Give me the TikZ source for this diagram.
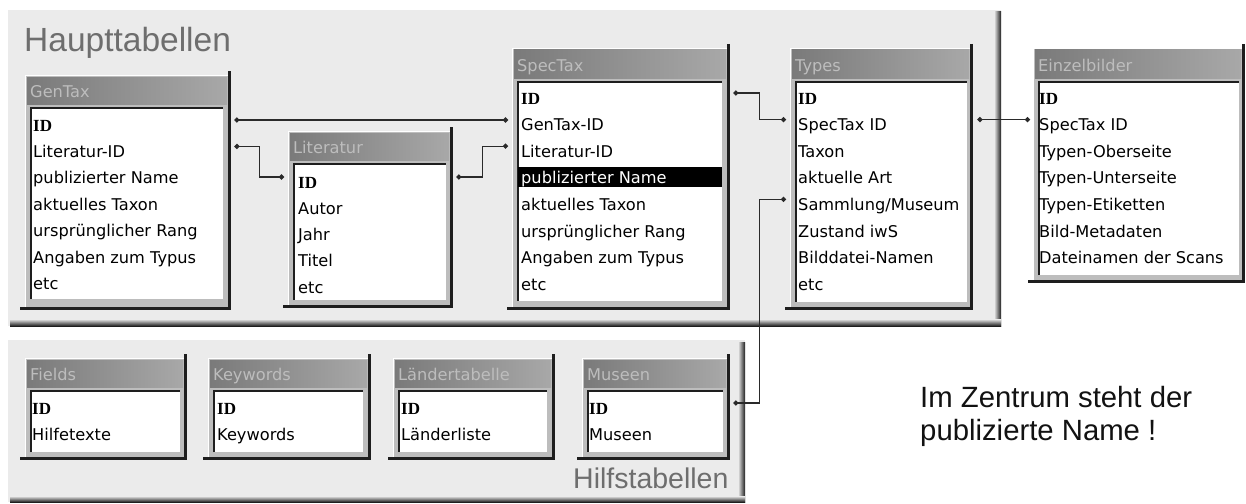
\documentclass[tikz,border=0pt]{standalone}
\usepackage{fontspec}
\setmainfont{DejaVu Sans}
\newfontfamily\headf{Liberation Sans}
\newfontfamily\idf{Liberation Serif}
\usetikzlibrary{calc,arrows.meta}

\definecolor{panelbg}{HTML}{EBEBEB}
\definecolor{framegray}{HTML}{BDBDBD}
\definecolor{barL}{HTML}{7A7A7A}
\definecolor{barR}{HTML}{A8A8A8}
\definecolor{bartext}{HTML}{BDBDBD}
\definecolor{edgedark}{HTML}{1E1E1E}
\definecolor{headgray}{HTML}{6E6E6E}
\definecolor{linkgray}{HTML}{2A2A2A}

\tikzset{
  rowtext/.style={anchor=base west, inner sep=0pt, font=\fontsize{16.2}{19}\selectfont, text=black},
  rowid/.style={rowtext, font=\idf\bfseries\fontsize{17}{19}\selectfont},
  bartitle/.style={anchor=base west, inner sep=0pt, font=\fontsize{16.2}{19}\selectfont, text=bartext},
  tabframe/.style={inner sep=0pt, anchor=north west},
  link/.style={draw=linkgray, line width=1.3pt, arrows={Circle[length=5pt]-Circle[length=5pt]}},
  heading/.style={anchor=base west, inner sep=0pt, text=headgray},
  notetext/.style={anchor=base west, inner sep=0pt, text=black!93, font=\headf\fontsize{29.3}{33}\selectfont},
}

% table window: name, left, top, right, bottom, title-bar bottom, body right, body bottom, title
\newcommand\dbtable[9]{%
  \fill[framegray] (#2,#3) rectangle (#4,#5);
  \draw[white, line width=1pt] (#2+0.5,#5-1) -- (#2+0.5,#3+0.5) -- (#4-1,#3+0.5);
  \shade[left color=barL, right color=barR] (#2+2,#3+2) rectangle (#4-4,#6);
  \fill[white] (#2+5,#6+3) rectangle (#7,#8);
  \draw[edgedark, line width=2pt] (#2+6,#8) -- (#2+6,#6+4) -- (#7,#6+4);
  \draw[edgedark, line width=2.6pt] (#4-1.3,#3-4) -- (#4-1.3,#5-1.3) -- (#2-5,#5-1.3);
  \node[tabframe, minimum width={(#4)-(#2)}, minimum height={(#5)-(#3)}] (#1) at (#2,#3) {};
  \node[bartitle] (#1-title) at (#2+5,#6-7) {#9};
}

% field rows: prefix, x, first baseline, row step, fields after the key
\newcommand\dbrows[5]{%
  \node[rowid] (#1-1) at (#2,#3) {ID};
  \foreach \t [count=\i from 2] in {#5} {
    \node[rowtext] (#1-\i) at (#2,{#3+(\i-1)*#4}) {\t};
  }
}

\begin{document}
\begin{tikzpicture}[x=1pt,y=-1pt]
\useasboundingbox (0,0) rectangle (1246,503);
\fill[white] (0,0) rectangle (1246,503);

% main tables panel
\fill[panelbg] (8,10) rectangle (1001,326);
\shade[left color=panelbg, right color=edgedark] (994,12) rectangle (1001,326);
\shade[top color=panelbg, bottom color=edgedark] (10,319) rectangle (1001,326);
\node[heading, font=\headf\fontsize{33.5}{38}\selectfont] (hauptlabel) at (24,52) {Haupttabellen};

% helper tables panel
\fill[panelbg] (8,340) rectangle (745,502);
\shade[left color=panelbg, right color=edgedark] (738,342) rectangle (745,502);
\shade[top color=panelbg, bottom color=edgedark] (10,496) rectangle (745,502);
\node[heading, font=\headf\fontsize{28.5}{34}\selectfont] (hilfslabel) at (573,488) {Hilfstabellen};

% main tables
\dbtable{gentax}{25}{75}{231}{310}{104}{223}{299}{GenTax}
\dbrows{gt}{33}{131}{26.4}{Literatur-ID, publizierter Name, aktuelles Taxon, ursprünglicher Rang, Angaben zum Typus, etc}

\dbtable{literatur}{288}{131}{453}{308}{160}{446}{300}{Literatur}
\dbrows{lt}{298}{188}{26.3}{Autor, Jahr, Titel, etc}

\dbtable{spectax}{512}{48}{730}{310}{78}{722}{301}{SpecTax}
\fill[black] (518,167) rectangle (722,187);
\dbrows{sp}{521}{104}{26.6}{GenTax-ID, Literatur-ID, \textcolor{white}{publizierter Name}, aktuelles Taxon, ursprünglicher Rang, Angaben zum Typus, etc}

\dbtable{types}{790}{48}{973}{310}{78}{967}{302}{Types}
\dbrows{ty}{798}{104}{26.6}{SpecTax ID, Taxon, aktuelle Art, Sammlung/Museum, Zustand iwS, Bilddatei-Namen, etc}

\dbtable{einzel}{1033}{48}{1245}{283}{78}{1239}{275}{Einzelbilder}
\dbrows{eb}{1039}{104}{26.6}{SpecTax ID, Typen-Oberseite, Typen-Unterseite, Typen-Etiketten, Bild-Metadaten, Dateinamen der Scans}

% helper tables
\dbtable{fields}{25}{358}{187}{460}{387}{180}{452}{Fields}
\dbrows{fd}{32}{414}{26}{Hilfetexte}
\dbtable{keywords}{208}{358}{371}{460}{387}{363}{452}{Keywords}
\dbrows{kw}{217}{414}{26}{Keywords}
\dbtable{laender}{393}{358}{555}{460}{387}{547}{452}{Ländertabelle}
\dbrows{ld}{401}{414}{26}{Länderliste}
\dbtable{museen}{582}{358}{730}{460}{387}{723}{452}{Museen}
\dbrows{mu}{589}{414}{26}{Museen}

% relations
\draw[link] ($(gentax.east |- gt-1.base)+(3,-11)$) -- ($(spectax.west |- gt-1.base)+(-4,-11)$);

\coordinate (r2a) at ($(gentax.east |- gt-2.base)+(3,-11)$);
\coordinate (r2b) at ($(literatur.west |- lt-1.base)+(-4,-11)$);
\draw[link] (r2a) -| ($(r2a)!.5!(r2b)$) |- (r2b);

\coordinate (r3a) at ($(literatur.east |- lt-1.base)+(3,-11)$);
\coordinate (r3b) at ($(spectax.west |- sp-3.base)+(-4,-11)$);
\draw[link] (r3a) -| ($(r3a)!.5!(r3b)$) |- (r3b);

\coordinate (r4a) at ($(spectax.east |- sp-1.base)+(3,-11)$);
\coordinate (r4b) at ($(types.west |- ty-2.base)+(-4,-11)$);
\draw[link] (r4a) -| ($(r4a)!.5!(r4b)$) |- (r4b);

\draw[link] ($(types.east |- ty-2.base)+(4,-11)$) -- ($(einzel.west |- ty-2.base)+(-3,-11)$);

\coordinate (r6a) at ($(types.west |- ty-5.base)+(-4,-11)$);
\coordinate (r6b) at ($(museen.east |- mu-1.base)+(3,-11)$);
\draw[link] (r6a) -| ($(r6a)!.5!(r6b)$) |- (r6b);

% remark
\node[notetext] (note1) at (920,407) {Im Zentrum steht der};
\node[notetext] (note2) at (920,440) {publizierte Name !};
\end{tikzpicture}
\end{document}
